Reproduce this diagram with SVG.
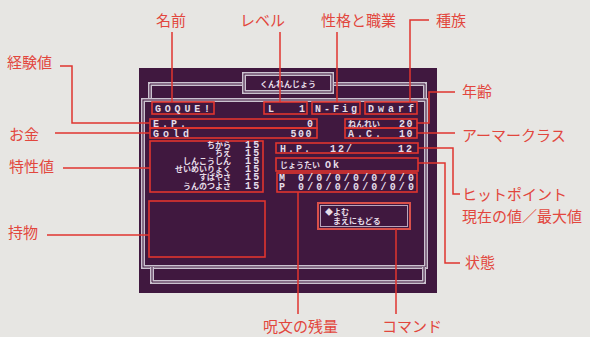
<svg xmlns="http://www.w3.org/2000/svg" width="590" height="337" viewBox="0 0 590 337">
<style>
.lbl{font-family:"Noto Sans CJK JP","Noto Sans",sans-serif;font-size:15px;fill:#e2463d}
.scr{font-family:"Liberation Mono","DejaVu Sans Mono","Noto Sans CJK JP",monospace;font-weight:bold;font-size:10px;fill:#e6dde8}
.jp{font-family:"Noto Sans CJK JP",sans-serif;font-weight:bold;font-size:8px;fill:#e6dde8}
.box{fill:none;stroke:#e0352f;stroke-width:1.6}
.frm{fill:none;stroke:#cbc2cf;stroke-width:4}
.frmi{fill:none;stroke:#40183f;stroke-width:1}
.con{fill:none;stroke:#e0352f;stroke-width:1.5}
</style>
<rect width="590" height="337" fill="#e7e6e3"/>
<g id="screen">
<rect x="139" y="68" width="298" height="225" fill="#40183f"/>
<path class="frm" d="M150 100 V84 H425 V100"/>
<path class="frmi" d="M150 100 V84 H425 V100"/>
<rect class="frm" x="143" y="100" width="283" height="167"/>
<rect class="frmi" x="143" y="100" width="283" height="167"/>
<path class="frm" d="M152 267 V282 H424 V267"/>
<path class="frmi" d="M152 267 V282 H424 V267"/>
<rect x="244" y="74" width="88" height="18" fill="#40183f" stroke="#cbc2cf" stroke-width="4"/>
<rect x="244" y="74" width="88" height="18" fill="none" stroke="#40183f" stroke-width="1"/>
<text class="jp" x="288" y="87" text-anchor="middle" font-size="9">くんれんじょう</text>
</g>
<g id="name"><rect class="box" x="152" y="102" width="62" height="12"/><text class="scr" x="155" y="112" textLength="55" lengthAdjust="spacing">GOQUE!</text></g>
<g id="level"><rect class="box" x="264" y="102" width="43" height="12"/><text class="scr" x="268" y="112">L</text><text class="scr" x="299" y="112">1</text></g>
<g id="class"><rect class="box" x="312" y="102" width="48" height="12"/><text class="scr" x="315" y="112" textLength="42" lengthAdjust="spacing">N-Fig</text></g>
<g id="race"><rect class="box" x="365" y="102" width="52" height="12"/><text class="scr" x="368" y="112" textLength="46" lengthAdjust="spacing">Dwarf</text></g>
<g id="ep"><rect class="box" x="150" y="119" width="167" height="9"/><text class="scr" x="153" y="126.5" font-size="8.8" textLength="33" lengthAdjust="spacing">E.P.</text><text class="scr" x="313" y="126.5" font-size="8.8" text-anchor="end">0</text></g>
<g id="gold"><rect class="box" x="150" y="128" width="167" height="10"/><text class="scr" x="153" y="136.5" font-size="8.8" textLength="36" lengthAdjust="spacing">Gold</text><text class="scr" x="313" y="136.5" font-size="8.8" text-anchor="end" letter-spacing="1.5">500</text></g>
<g id="age"><rect class="box" x="345" y="119" width="72" height="9"/><text class="jp" x="348" y="126.5" font-size="6.8">ねんれい</text><text class="scr" x="414" y="126.5" font-size="8.8" text-anchor="end" letter-spacing="1.5">20</text></g>
<g id="ac"><rect class="box" x="345" y="128" width="72" height="10"/><text class="scr" x="348" y="136.5" font-size="8.8" textLength="33" lengthAdjust="spacing">A.C.</text><text class="scr" x="414" y="136.5" font-size="8.8" text-anchor="end" letter-spacing="1.5">10</text></g>
<g id="stats"><rect class="box" x="150" y="141" width="113" height="51"/>
<text class="jp" font-size="6.2" text-anchor="end" x="231" y="148"><tspan x="231">ちから</tspan><tspan x="231" dy="8.1">ちえ</tspan><tspan x="231" dy="8.1">しんこうしん</tspan><tspan x="231" dy="8.1">せいめいりょく</tspan><tspan x="231" dy="8.1">すばやさ</tspan><tspan x="231" dy="8.1">うんのつよさ</tspan></text>
<text class="scr" font-size="7.4" letter-spacing="2.2" x="245" y="148"><tspan x="245">15</tspan><tspan x="245" dy="8.1">15</tspan><tspan x="245" dy="8.1">15</tspan><tspan x="245" dy="8.1">15</tspan><tspan x="245" dy="8.1">15</tspan><tspan x="245" dy="8.1">15</tspan></text>
</g>
<g id="hp"><rect class="box" x="276" y="143" width="142" height="10"/><text class="scr" x="280" y="151.5" letter-spacing="2">H.P.</text><text class="scr" x="330" y="151.5" letter-spacing="2">12/</text><text class="scr" x="414" y="151.5" text-anchor="end" letter-spacing="2">12</text></g>
<g id="status"><rect class="box" x="276" y="158" width="142" height="13"/><text class="jp" x="280" y="168">じょうたい</text><text class="scr" x="325" y="168" letter-spacing="2">Ok</text></g>
<g id="spells"><rect class="box" x="277" y="173" width="140" height="19"/>
<text class="scr" x="279" y="181" font-size="7.8">M</text><text class="scr" x="279" y="189.6" font-size="7.8">P</text>
<text class="scr" x="298" y="181" font-size="7.8" textLength="116" lengthAdjust="spacing">0/0/0/0/0/0/0</text><text class="scr" x="298" y="189.6" font-size="7.8" textLength="116" lengthAdjust="spacing">0/0/0/0/0/0/0</text></g>
<g id="items"><rect class="box" x="149" y="201" width="116" height="56"/></g>
<g id="command"><rect x="318" y="203" width="92" height="26" fill="none" stroke="#d9504a" stroke-width="2"/><rect x="320.5" y="205.5" width="87" height="21" fill="none" stroke="#b9a5bb" stroke-width="1"/>
<text class="jp" x="325" y="215"><tspan x="325">◆よむ</tspan><tspan x="333" dy="9">まえにもどる</tspan></text></g>
<g id="labels">
<text class="lbl" x="156" y="26">名前</text>
<text class="lbl" x="240" y="26">レベル</text>
<text class="lbl" x="321" y="26">性格と職業</text>
<text class="lbl" x="436" y="26">種族</text>
<text class="lbl" x="7" y="68">経験値</text>
<text class="lbl" x="9" y="140">お金</text>
<text class="lbl" x="9" y="172">特性値</text>
<text class="lbl" x="8" y="238">持物</text>
<text class="lbl" x="462" y="97">年齢</text>
<text class="lbl" x="462" y="141">アーマークラス</text>
<text class="lbl" x="462" y="200"><tspan x="462">ヒットポイント</tspan><tspan x="462" dy="22">現在の値／最大値</tspan></text>
<text class="lbl" x="465" y="268">状態</text>
<text class="lbl" x="263" y="332">呪文の残量</text>
<text class="lbl" x="382" y="332">コマンド</text>
</g>
<g id="connectors">
<path class="con" d="M172 32 V102"/>
<path class="con" d="M280 32 V102"/>
<path class="con" d="M337 32 V102"/>
<path class="con" d="M429 20 H410 V102"/>
<path class="con" d="M60 66 H72 V123 H150"/>
<path class="con" d="M55 133 H150"/>
<path class="con" d="M63 168 H150"/>
<path class="con" d="M47 235 H149"/>
<path class="con" d="M417 123 H429 V92 H455"/>
<path class="con" d="M417 133 H455"/>
<path class="con" d="M418 148 H453 V194 H460"/>
<path class="con" d="M418 163 H445 V263 H460"/>
<path class="con" d="M298 192 V314"/>
<path class="con" d="M396 229 V314"/>
</g>
</svg>
